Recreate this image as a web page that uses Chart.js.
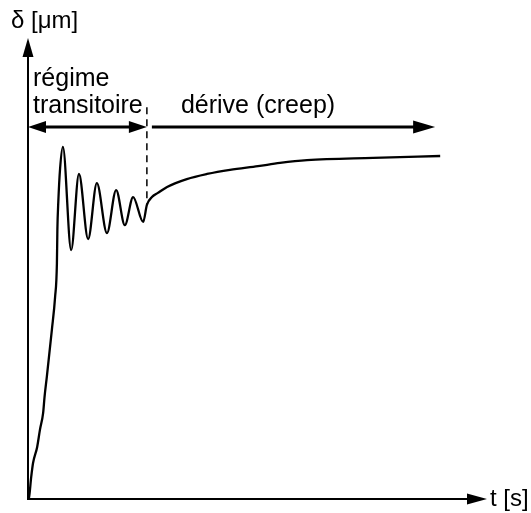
<!DOCTYPE html>
<html>
<head>
<meta charset="utf-8">
<script src="https://cdn.jsdelivr.net/npm/chart.js@4/dist/chart.umd.min.js"></script>
<style>
  html, body { margin: 0; padding: 0; background: #fff; }
  #wrap { width: 531px; height: 513px; position: relative; }
</style>
</head>
<body>
<div id="wrap"><canvas id="c" width="531" height="513"></canvas></div>
<script>
// ---- data (arbitrary units) ----
const timeS = [0.00, 0.02, 0.07, 0.11, 0.20, 0.26, 0.33, 0.36, 0.41, 0.52, 0.59, 0.63, 0.64, 0.66, 0.70, 0.76,
  0.94, 1.11, 1.31, 1.50, 1.72, 1.92, 2.11, 2.29, 2.51, 2.59, 2.70, 2.83, 3.03, 3.46, 3.90, 4.40, 5.01, 5.49, 6.08, 7.52, 8.98];
const deltaUm = [0.00, 0.02, 0.48, 0.78, 1.13, 1.50, 1.87, 2.21, 2.65, 3.67, 4.38, 5.12, 5.84, 6.44, 7.18, 7.64,
  5.40, 7.05, 5.64, 6.85, 5.77, 6.70, 5.94, 6.55, 6.01, 6.38, 6.55, 6.64, 6.77, 6.94, 7.05, 7.14, 7.22, 7.29, 7.35, 7.40, 7.44];
const transientEnd = 2.59;      // end of transient regime (dashed line)
const creepArrowEnd = 8.87;     // end of creep arrow
const phaseArrowLevel = 8.07;   // height of the phase arrows
const dashedTop = 8.50;
const dashedBottom = 6.38;
const labels = {
  yAxis: 'δ [μm]',
  xAxis: 't [s]',
  transient1: 'régime',
  transient2: 'transitoire',
  creep: 'dérive (creep)'
};

const FONT = '25px "Liberation Sans", Arial, Helvetica, sans-serif';
const AXIS_FONT = '24px "Liberation Sans", Arial, Helvetica, sans-serif';

function arrowHead(ctx, tipX, tipY, dir, len, half) {
  ctx.beginPath();
  if (dir === 'up') {
    ctx.moveTo(tipX, tipY);
    ctx.lineTo(tipX - half, tipY + len);
    ctx.lineTo(tipX + half, tipY + len);
  } else if (dir === 'right') {
    ctx.moveTo(tipX, tipY);
    ctx.lineTo(tipX - len, tipY - half);
    ctx.lineTo(tipX - len, tipY + half);
  } else {
    ctx.moveTo(tipX, tipY);
    ctx.lineTo(tipX + len, tipY - half);
    ctx.lineTo(tipX + len, tipY + half);
  }
  ctx.closePath();
  ctx.fill();
}

const decor = {
  id: 'decor',
  afterDatasetsDraw(chart) {
    const ctx = chart.ctx;
    const xs = chart.scales.x, ys = chart.scales.y;
    const a = chart.chartArea;
    ctx.save();
    ctx.fillStyle = '#000';
    ctx.strokeStyle = '#000';
    ctx.lineCap = 'butt';

    // axes
    ctx.lineWidth = 2;
    ctx.beginPath();
    ctx.moveTo(a.left, a.bottom);
    ctx.lineTo(a.left, a.top + 16);
    ctx.moveTo(a.left - 1, a.bottom);
    ctx.lineTo(a.right - 16, a.bottom);
    ctx.stroke();
    arrowHead(ctx, a.left, a.top, 'up', 19, 5.5);
    arrowHead(ctx, a.right, a.bottom, 'right', 20, 5.5);

    // dashed boundary
    const xb = xs.getPixelForValue(transientEnd);
    ctx.lineWidth = 1.5;
    ctx.setLineDash([7, 5]);
    ctx.beginPath();
    ctx.moveTo(xb, ys.getPixelForValue(dashedTop));
    ctx.lineTo(xb, ys.getPixelForValue(dashedBottom));
    ctx.stroke();
    ctx.setLineDash([]);

    // transient double arrow
    const ya = ys.getPixelForValue(phaseArrowLevel);
    ctx.lineWidth = 3;
    ctx.beginPath();
    ctx.moveTo(a.left + 10, ya);
    ctx.lineTo(xb - 10, ya);
    ctx.stroke();
    arrowHead(ctx, a.left, ya, 'left', 18, 6);
    arrowHead(ctx, xb, ya, 'right', 18, 6);

    // creep arrow
    const xc0 = xb + 5;
    const xc1 = xs.getPixelForValue(creepArrowEnd);
    ctx.beginPath();
    ctx.moveTo(xc0, ya);
    ctx.lineTo(xc1 - 10, ya);
    ctx.stroke();
    arrowHead(ctx, xc1, ya, 'right', 22, 6.5);

    // texts
    ctx.textBaseline = 'alphabetic';
    ctx.textAlign = 'left';
    ctx.font = AXIS_FONT;
    ctx.fillText(labels.yAxis, a.left - 17, a.top - 10);
    ctx.font = FONT;
    ctx.fillText(labels.transient1, a.left + 5, a.top + 48);
    ctx.fillText(labels.transient2, a.left + 5, a.top + 75);
    ctx.fillText(labels.creep, xb + 34, a.top + 75);
    ctx.font = AXIS_FONT;
    ctx.textBaseline = 'middle';
    ctx.fillText(labels.xAxis, a.right + 3, a.bottom);
    ctx.restore();
  }
};

new Chart(document.getElementById('c'), {
  type: 'line',
  data: {
    datasets: [{
      data: timeS.map((t, i) => ({ x: t, y: deltaUm[i] })),
      borderColor: '#000',
      borderWidth: 2.3,
      pointRadius: 0,
      fill: false,
      cubicInterpolationMode: 'monotone'
    }]
  },
  options: {
    responsive: false,
    animation: false,
    devicePixelRatio: 1,
    layout: { padding: { left: 28, right: 44, top: 38, bottom: 14 } },
    scales: {
      x: { type: 'linear', min: 0, max: 10, display: false },
      y: { type: 'linear', min: 0, max: 10, display: false }
    },
    plugins: { legend: { display: false }, tooltip: { enabled: false } }
  },
  plugins: [decor]
});
</script>
</body>
</html>
